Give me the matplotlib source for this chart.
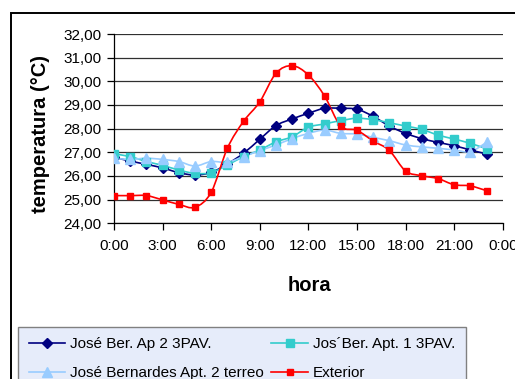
import matplotlib
matplotlib.use("Agg")
import matplotlib.pyplot as plt
from matplotlib.path import Path
from matplotlib.patches import PathPatch, Rectangle
from matplotlib.lines import Line2D
import numpy as np

plt.rcParams["font.family"] = ["Liberation Sans", "DejaVu Sans"]

# ---------------------------------------------------------------------------
# Data (hourly readings, 0:00 .. 23:00)
# ---------------------------------------------------------------------------
hours = list(range(24))

ap2_3pav = [26.79, 26.63, 26.49, 26.34, 26.14, 26.04, 26.15, 26.51, 26.96, 27.55,
            28.13, 28.41, 28.65, 28.86, 28.86, 28.82, 28.52, 28.11, 27.80, 27.58,
            27.42, 27.28, 27.10, 26.93]
apt1_3pav = [26.93, 26.82, 26.61, 26.45, 26.25, 26.11, 26.14, 26.46, 26.82, 27.10,
             27.44, 27.66, 28.06, 28.20, 28.34, 28.44, 28.38, 28.25, 28.11, 27.97,
             27.73, 27.56, 27.38, 27.15]
apt2_terreo = [26.75, 26.70, 26.75, 26.70, 26.61, 26.42, 26.61, 26.58, 26.82, 27.07,
               27.31, 27.58, 27.80, 27.94, 27.80, 27.77, 27.63, 27.49, 27.31, 27.23,
               27.17, 27.10, 27.03, 27.42]
exterior = [25.17, 25.17, 25.17, 24.99, 24.80, 24.68, 25.31, 27.17, 28.31, 29.13,
            30.34, 30.66, 30.27, 29.38, 28.11, 27.93, 27.48, 27.08, 26.21, 26.01,
            25.89, 25.63, 25.58, 25.38]

xtick_pos = [0, 3, 6, 9, 12, 15, 18, 21, 24]
xtick_labels = ["0:00", "3:00", "6:00", "9:00", "12:00", "15:00", "18:00", "21:00", "0:00"]
yticks = [24, 25, 26, 27, 28, 29, 30, 31, 32]

series = [
    ("José Ber. Ap 2 3PAV.", ap2_3pav, "#000080", "D", 5.2),
    ("Jos´Ber. Apt. 1 3PAV.", apt1_3pav, "#33CCCC", "s", 5.5),
    ("José Bernardes Apt. 2 terreo", apt2_terreo, "#99CCFF", "^", 7.0),
    ("Exterior", exterior, "#FF0000", "s", 4.0),
]


def smooth_path(x, y, tension=1 / 6):
    """Excel-like smoothed line: cubic Bezier through every point."""
    x = np.asarray(x, float)
    y = np.asarray(y, float)
    n = len(x)
    verts = [(x[0], y[0])]
    codes = [Path.MOVETO]
    for i in range(n - 1):
        x0, y0 = (x[i - 1], y[i - 1]) if i > 0 else (x[i], y[i])
        x3, y3 = (x[i + 2], y[i + 2]) if i + 2 < n else (x[i + 1], y[i + 1])
        c1 = (x[i] + (x[i + 1] - x0) * tension, y[i] + (y[i + 1] - y0) * tension)
        c2 = (x[i + 1] - (x3 - x[i]) * tension, y[i + 1] - (y3 - y[i]) * tension)
        verts += [c1, c2, (x[i + 1], y[i + 1])]
        codes += [Path.CURVE4] * 3
    return Path(verts, codes)


fig = plt.figure(figsize=(5.15, 3.79), dpi=100)
fig.patch.set_facecolor("white")

# chart frame (cropped on the right and bottom in the original)
fig.patches.append(Rectangle((11 / 515, -0.05), 1.2, 1 - 13 / 379 + 0.05,
                             transform=fig.transFigure, fill=False,
                             edgecolor="black", linewidth=1.4, zorder=0))

ax = fig.add_axes([114 / 515, 1 - 223.3 / 379, 388.7 / 515, 189.3 / 379])

for y in yticks:
    ax.axhline(y, color="#303030", linewidth=0.9, zorder=1)

handles = []
for label, vals, color, marker, ms in series:
    ax.add_patch(PathPatch(smooth_path(hours, vals), fill=False, edgecolor=color,
                           linewidth=1.2, zorder=3))
    ax.plot(hours, vals, linestyle="none", marker=marker, markersize=ms,
            color=color, markeredgecolor=color, zorder=4)
    handles.append(Line2D([], [], color=color, linewidth=1.2, marker=marker,
                          markersize=ms, markeredgecolor=color))

ax.set_xlim(0, 24)
ax.set_ylim(24, 32)
ax.set_xticks(xtick_pos)
ax.set_xticklabels(xtick_labels)
ax.set_yticks(yticks)
ax.set_yticklabels([f"{v:.2f}".replace(".", ",") for v in yticks])
ax.tick_params(axis="both", labelsize=11, length=5, width=0.9, color="black")
ax.tick_params(axis="x", pad=6)
ax.tick_params(axis="y", pad=4)

for side in ["top", "right"]:
    ax.spines[side].set_visible(False)
ax.spines["left"].set_linewidth(0.9)
ax.spines["bottom"].set_linewidth(0.9)

ax.set_xlabel("hora", fontsize=14.5, fontweight="bold")
ax.set_ylabel("temperatura (°C)", fontsize=14.5, fontweight="bold")
ax.xaxis.set_label_coords(0.503, -0.278)
ax.yaxis.set_label_coords(-0.165, 0.474)

# legend is filled row by row in the original
order = [0, 2, 1, 3]
leg = fig.legend([handles[i] for i in order], [series[i][0] for i in order], ncol=2,
                 loc="upper left", bbox_to_anchor=(18 / 515, 1 - 326.7 / 379),
                 bbox_transform=fig.transFigure, borderaxespad=0,
                 fontsize=11, frameon=True, fancybox=False,
                 handlelength=2.4, handletextpad=0.3, columnspacing=0.5,
                 labelspacing=0.95, borderpad=0.7)
frame = leg.get_frame()
frame.set_facecolor("#E6ECFA")
frame.set_edgecolor("#808080")
frame.set_linewidth(1.0)
frame.set_alpha(1)

fig.savefig("out.png", dpi=100, facecolor="white")
